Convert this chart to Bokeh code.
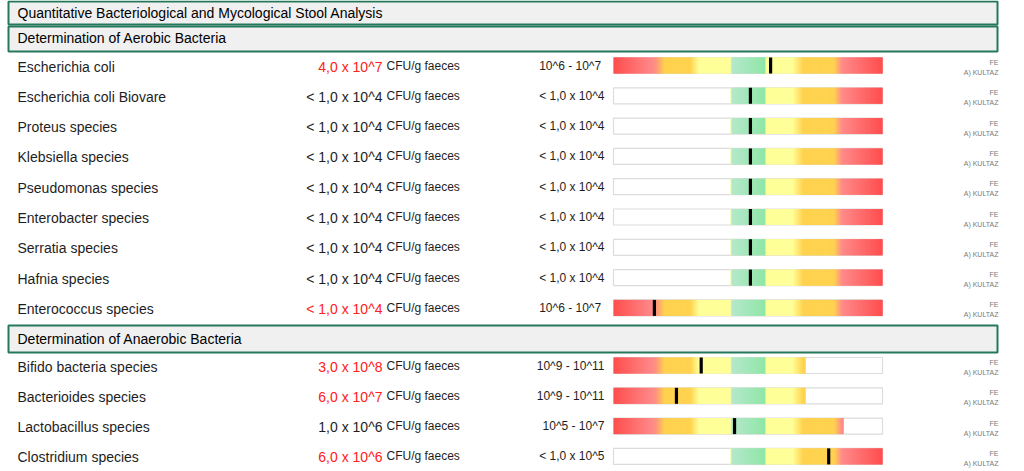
import numpy as np
from bokeh.plotting import figure
from bokeh.models import Range1d, ColumnDataSource
from bokeh.core.properties import value
from bokeh.embed import file_html
from bokeh.resources import INLINE

# ---------------- data ----------------
report_title = "Quantitative Bacteriological and Mycological Stool Analysis"
section_titles = ["Determination of Aerobic Bacteria", "Determination  of Anaerobic Bacteria"]

aerobic_names = ["Escherichia coli", "Escherichia coli Biovare", "Proteus species",
                 "Klebsiella species", "Pseudomonas species", "Enterobacter species",
                 "Serratia species", "Hafnia species", "Enterococcus species"]
aerobic_results = ["4,0 x 10^7", "< 1,0 x 10^4", "< 1,0 x 10^4", "< 1,0 x 10^4",
                   "< 1,0 x 10^4", "< 1,0 x 10^4", "< 1,0 x 10^4", "< 1,0 x 10^4",
                   "< 1,0 x 10^4"]
aerobic_flagged = [True, False, False, False, False, False, False, False, True]
aerobic_reference = ["10^6 -  10^7", "< 1,0 x 10^4", "< 1,0 x 10^4", "< 1,0 x 10^4",
                     "< 1,0 x 10^4", "< 1,0 x 10^4", "< 1,0 x 10^4", "< 1,0 x 10^4",
                     "10^6  - 10^7"]
# marker position on the 0..100 colour scale
aerobic_marker = [58.4, 50.9, 50.9, 50.9, 50.9, 50.9, 50.9, 50.9, 15.2]
aerobic_scale_from = [0, 43.5, 43.5, 43.5, 43.5, 43.5, 43.5, 43.5, 0]
aerobic_scale_to = [100, 100, 100, 100, 100, 100, 100, 100, 100]

anaerobic_names = ["Bifido bacteria species", "Bacterioides species",
                   "Lactobacillus species", "Clostridium species"]
anaerobic_results = ["3,0 x 10^8", "6,0 x 10^7", "1,0 x 10^6", "6,0 x 10^6"]
anaerobic_flagged = [True, True, False, True]
anaerobic_reference = ["10^9 - 10^11", "10^9 - 10^11", "10^5 - 10^7", "< 1,0 x 10^5"]
anaerobic_marker = [32.6, 23.4, 45.0, 80.0]
anaerobic_scale_from = [0, 0, 0, 43.5]
anaerobic_scale_to = [71.4, 71.4, 85.5, 100]

unit_label = "CFU/g faeces"
method_codes = ["FE", "A) KULTAZ"]

# ---------------- styles / layout ----------------
FONT = value("Liberation Sans")
RED = "#ff2020"
DARK = "#1e1e1e"
HEADER_LINE = "#25785a"
HEADER_FILL = "#f0f0f0"

W, H = 1024, 471
BAR_L, BAR_R = 613, 882
ROW_H = 30.3
BAR_HALF = 8

stops = [
    (0.0, "#ff4d4d"), (14.0, "#ff8888"), (15.6, "#ff9080"), (19.0, "#ffd24f"),
    (28.5, "#ffd24f"), (31.8, "#ffff99"), (43.6, "#ffff99"), (43.9, "#b5e8cb"),
    (56.3, "#8fe6a7"), (56.7, "#ffff99"), (66.5, "#ffff99"), (70.5, "#ffd24f"),
    (82.0, "#ffd24f"), (85.0, "#ff8a8a"), (100.0, "#ff4d4d"),
]


def hex2rgb(h):
    h = h.lstrip("#")
    return np.array([int(h[i:i + 2], 16) for i in (0, 2, 4)], dtype=float)


stop_pos = np.array([s[0] for s in stops])
stop_rgb = np.array([hex2rgb(s[1]) for s in stops])


def color_at(pos):
    r = np.interp(pos, stop_pos, stop_rgb[:, 0])
    g = np.interp(pos, stop_pos, stop_rgb[:, 1])
    b = np.interp(pos, stop_pos, stop_rgb[:, 2])
    return "#%02x%02x%02x" % (int(round(r)), int(round(g)), int(round(b)))


names = aerobic_names + anaerobic_names
results = aerobic_results + anaerobic_results
flagged = aerobic_flagged + anaerobic_flagged
references = aerobic_reference + anaerobic_reference
markers = aerobic_marker + anaerobic_marker
scale_from = aerobic_scale_from + anaerobic_scale_from
scale_to = aerobic_scale_to + anaerobic_scale_to

row_y = [65 + ROW_H * i for i in range(len(aerobic_names))] + \
        [365 + ROW_H * i for i in range(len(anaerobic_names))]

# ---------------- figure ----------------
p = figure(width=W, height=H, output_backend="svg", toolbar_location=None,
           x_range=Range1d(0, W), y_range=Range1d(H, 0), min_border=0)
p.axis.visible = False
p.grid.visible = False
p.outline_line_color = None
p.background_fill_color = "white"
p.border_fill_color = "white"

span = BAR_R - BAR_L
p.extra_x_ranges = {"bar": Range1d((0 - BAR_L) / span * 100, (W - BAR_L) / span * 100)}

# header boxes
hdr = ColumnDataSource(dict(
    top=[1, 26, 325], bottom=[24, 51, 352],
    text=[report_title] + section_titles,
    base=[12.3, 37.3, 338.3],
))
p.quad(left=8, right=997, top="top", bottom="bottom", source=hdr,
       fill_color=HEADER_FILL, line_color=HEADER_LINE, line_width=2)
p.text(x=17, y="base", text="text", source=hdr, text_font=FONT, text_font_size="14px",
       text_color="#000000", text_baseline="alphabetic", text_align="left")

# bar backgrounds (white with light grey frame)
bg = ColumnDataSource(dict(y=row_y,
                           top=[y - BAR_HALF for y in row_y],
                           bottom=[y + BAR_HALF for y in row_y]))
p.quad(left=0, right=100, top="top", bottom="bottom", source=bg, x_range_name="bar",
       fill_color="white", line_color="#dcdcdc", line_width=1.2)

# gradient fills (each slice overlaps the next one to avoid seams)
L, R, T, B, C = [], [], [], [], []
for y, a, b in zip(row_y, scale_from, scale_to):
    edges = np.unique(np.concatenate([np.arange(a, b, 0.4),
                                      [s for s in stop_pos if a < s < b], [b]]))
    for e0, e1 in zip(edges[:-1], edges[1:]):
        L.append(e0)
        R.append(min(e1 + 0.4, b))
        T.append(y - BAR_HALF)
        B.append(y + BAR_HALF)
        C.append(color_at((e0 + e1) / 2))
grad = ColumnDataSource(dict(left=L, right=R, top=T, bottom=B, color=C))
p.quad(left="left", right="right", top="top", bottom="bottom", source=grad,
       x_range_name="bar", fill_color="color", line_color=None)

# markers
mk = ColumnDataSource(dict(x=markers, y=row_y))
p.rect(x="x", y="y", width=3.2, width_units="screen", height=2 * BAR_HALF, source=mk,
       x_range_name="bar", fill_color="black", line_color=None)

# texts
rows = ColumnDataSource(dict(
    name=names, result=results, ref=references,
    rcolor=[RED if f else DARK for f in flagged],
    base=[y + 1 for y in row_y],
    ubase=[y for y in row_y],
    fe=[y - 3 for y in row_y],
    ku=[y + 7 for y in row_y],
    unit=[unit_label] * len(names),
    c1=[method_codes[0]] * len(names),
    c2=[method_codes[1]] * len(names),
))
p.text(x=17, y="base", text="name", source=rows, text_font=FONT, text_font_size="14px",
       text_color=DARK, text_baseline="alphabetic", text_align="left")
p.text(x=382, y="base", text="result", source=rows, text_font=FONT, text_font_size="14px",
       text_color="rcolor", text_baseline="alphabetic", text_align="right")
p.text(x=386, y="ubase", text="unit", source=rows, text_font=FONT, text_font_size="12px",
       text_color=DARK, text_baseline="alphabetic", text_align="left")
p.text(x=604, y="ubase", text="ref", source=rows, text_font=FONT, text_font_size="12px",
       text_color=DARK, text_baseline="alphabetic", text_align="right")
p.text(x=998, y="fe", text="c1", source=rows, text_font=FONT, text_font_size="7px",
       text_color="#7a7a7a", text_baseline="alphabetic", text_align="right")
p.text(x=998, y="ku", text="c2", source=rows, text_font=FONT, text_font_size="7px",
       text_color="#7a7a7a", text_baseline="alphabetic", text_align="right")

open("out.html", "w").write(file_html(p, INLINE))
